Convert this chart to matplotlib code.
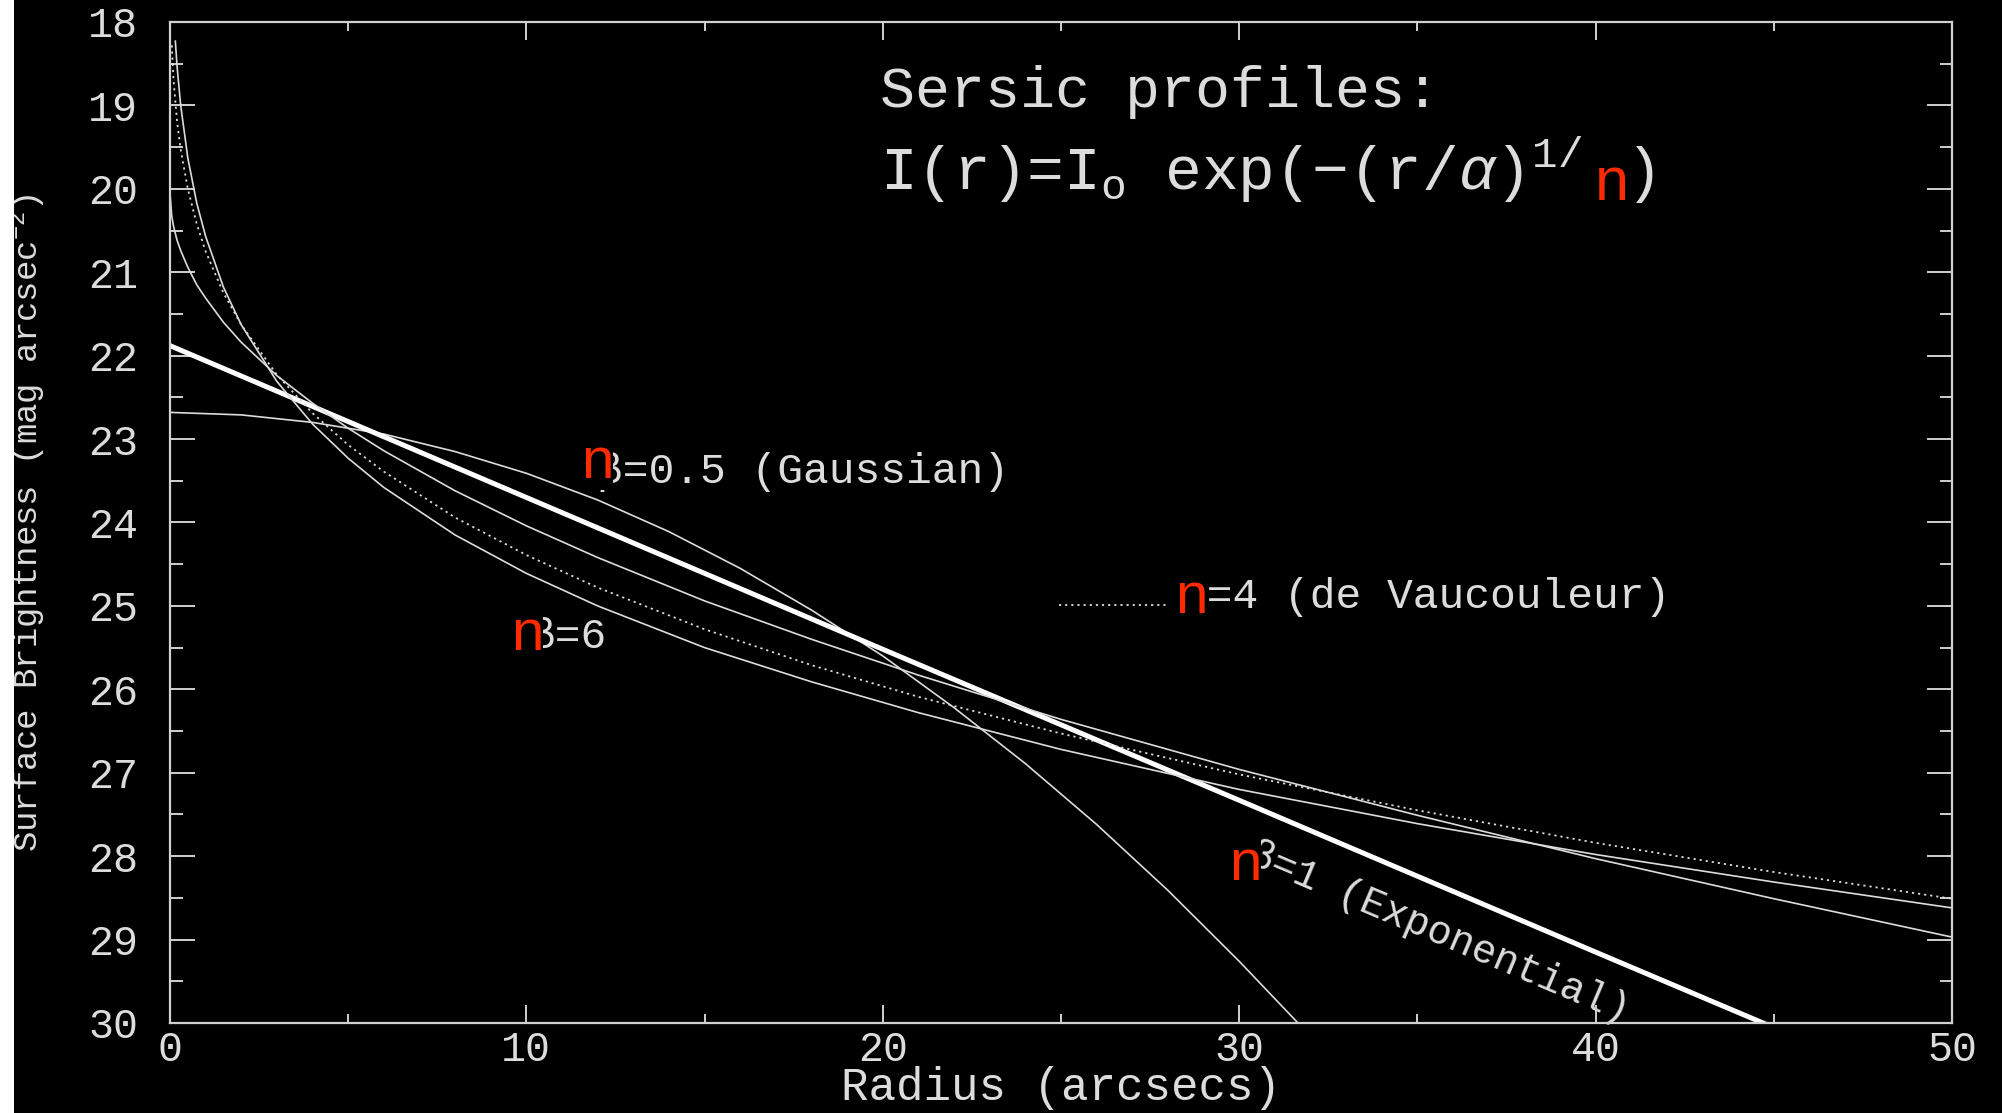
import matplotlib
matplotlib.use('Agg')
import matplotlib.pyplot as plt
from matplotlib.patches import Rectangle
from matplotlib.ticker import MultipleLocator

# Sersic profiles: radius (arcsec) -> surface brightness (mag arcsec^-2)
R_GAUSS = [0, 2, 4, 6, 8, 10, 12, 14, 16, 18, 20, 22, 24, 26, 28, 30, 31.65]
MU_GAUSS = [22.68, 22.71, 22.80, 22.94, 23.15, 23.41, 23.73, 24.11, 24.55, 25.05,
            25.60, 26.22, 26.89, 27.62, 28.41, 29.26, 30.00]

R_EXP = [0, 10, 20, 30, 40, 44.7]
MU_EXP = [21.88, 23.70, 25.52, 27.33, 29.15, 30.00]

R_N2 = [0, 0.05, 0.1, 0.2, 0.3, 0.5, 0.75, 1, 1.5, 2, 3, 4, 5, 6, 8, 10, 12, 15,
        18, 21, 25, 30, 35, 40, 45, 50]
MU_N2 = [20.05, 20.33, 20.45, 20.62, 20.74, 20.94, 21.15, 21.31, 21.60, 21.84,
         22.24, 22.57, 22.87, 23.14, 23.62, 24.04, 24.42, 24.94, 25.40, 25.83,
         26.36, 26.96, 27.51, 28.03, 28.51, 28.97]

R_N4 = [0.05, 0.1, 0.2, 0.3, 0.5, 0.75, 1, 1.5, 2, 3, 4, 5, 6, 8, 10, 12, 15, 18,
        21, 25, 30, 35, 40, 45, 50]
MU_N4 = [18.28, 18.70, 19.20, 19.53, 20.00, 20.42, 20.75, 21.25, 21.63, 22.23,
         22.69, 23.07, 23.39, 23.94, 24.39, 24.78, 25.28, 25.71, 26.09, 26.53,
         27.02, 27.45, 27.84, 28.19, 28.51]

R_N6 = [0.15, 0.2, 0.3, 0.5, 0.75, 1, 1.5, 2, 3, 4, 5, 6, 8, 10, 12, 15, 18, 21,
        25, 30, 35, 40, 45, 50]
MU_N6 = [18.23, 18.54, 19.00, 19.63, 20.17, 20.57, 21.18, 21.63, 22.31, 22.82,
         23.23, 23.58, 24.15, 24.61, 25.00, 25.50, 25.91, 26.28, 26.72, 27.20,
         27.61, 27.98, 28.31, 28.62]

X_TICKS = [0, 10, 20, 30, 40, 50]
Y_TICKS = list(range(18, 31))

W, H = 2002, 1113
FG = '#dcdcdc'
RED = '#ff2a00'
MONO = 'Liberation Mono'   # closest match to the wide, thin plotter lettering
SANS = 'Liberation Sans'

plt.rcParams['font.family'] = [MONO, 'DejaVu Sans']
plt.rcParams['mathtext.fontset'] = 'custom'
plt.rcParams['mathtext.rm'] = MONO
plt.rcParams['mathtext.it'] = MONO + ':italic'
plt.rcParams['mathtext.bf'] = MONO + ':bold'

fig = plt.figure(figsize=(W / 100, H / 100), dpi=100, facecolor='black')
ax = fig.add_axes([170 / W, 1 - 1023 / H, 1782 / W, 1001 / H], facecolor='black')

# curves
ax.plot(R_GAUSS, MU_GAUSS, color=FG, lw=1.2, zorder=2)
ax.plot(R_EXP, MU_EXP, color='white', lw=3.6, zorder=2)
ax.plot(R_N2, MU_N2, color=FG, lw=1.2, zorder=2)
ax.plot(R_N4, MU_N4, color=FG, lw=1.3, ls=(0, (1.2, 2.2)), zorder=2)
ax.plot(R_N6, MU_N6, color=FG, lw=1.2, zorder=2)

ax.set_xlim(0, 50)
ax.set_ylim(30, 18)
ax.set_xticks(X_TICKS)
ax.set_yticks(Y_TICKS)
ax.xaxis.set_minor_locator(MultipleLocator(5))
ax.yaxis.set_minor_locator(MultipleLocator(0.5))

for side in ax.spines.values():
    side.set_color('#d0d0d0')
    side.set_linewidth(1.6)

ax.tick_params(which='both', direction='in', top=True, right=True, color='#d0d0d0', width=1.4)
ax.tick_params(axis='y', which='major', length=18, pad=23)
ax.tick_params(axis='y', which='minor', length=9)
ax.tick_params(axis='x', which='major', length=13, pad=5)
ax.tick_params(axis='x', which='minor', length=6.5)
for lab in ax.get_xticklabels() + ax.get_yticklabels():
    lab.set_fontsize(30)
    lab.set_color(FG)

ax.set_xlabel('Radius (arcsecs)', fontsize=33, color=FG)
ax.xaxis.label.set_va('baseline')
ax.xaxis.set_label_coords(0.5, -0.0765)
ax.set_ylabel('Surface Brightness (mag arcsec$^{-2}$)', fontsize=24.5, color=FG)
ax.yaxis.label.set_va('baseline')
ax.yaxis.set_label_coords(-0.074, 0.5)


def ftext(x, y, s, **kw):
    # place text by figure pixel position (from top-left)
    return ax.text(x / W, 1 - y / H, s, transform=fig.transFigure, **kw)


def red_n(x, y, size=42):
    ftext(x, y, 'n', ha='left', va='baseline', fontsize=size, family=SANS,
          color=RED, zorder=1.5,
          bbox=dict(facecolor='black', edgecolor='none', pad=0))


# headline formula
ftext(880, 107, 'Sersic profiles:', ha='left', va='baseline', fontsize=42, color=FG)
ftext(880, 190, r'I(r)=I$_{\rm o}$ exp(−(r/$\alpha$)$^{\rm 1/}$', ha='left',
      va='baseline', fontsize=44, color=FG)
red_n(1595, 200, size=44)
ftext(1626, 190, ')', ha='left', va='baseline', fontsize=44, color=FG)

# curve labels
LBL = 31
ftext(597, 483, 'β=0.5 (Gaussian)', ha='left', va='baseline', fontsize=LBL,
      color=FG, zorder=1)
red_n(581, 478)

ftext(529, 648, 'β=6', ha='left', va='baseline', fontsize=LBL, color=FG, zorder=1)
red_n(511, 650)

ax.plot([(1059 - 170) / 1782, (1166 - 170) / 1782], [(1023 - 605) / 1001] * 2,
        transform=ax.transAxes, color=FG, lw=1.3, ls=(0, (1.2, 2.2)))
ftext(1181, 608, 'β=4 (de Vaucouleur)', ha='left', va='baseline', fontsize=LBL,
      color=FG, zorder=1)
red_n(1175, 613)

ftext(1246, 863, 'β=1 (Exponential)', ha='left', va='baseline', fontsize=29,
      color=FG, rotation=-23, rotation_mode='anchor', zorder=1)
red_n(1229, 880)

# white strip on the left edge of the slide
fig.add_artist(Rectangle((0, 0), 14 / W, 1, transform=fig.transFigure,
                         facecolor='white', edgecolor='none'))

fig.savefig('out.png', dpi=100, facecolor='black')
